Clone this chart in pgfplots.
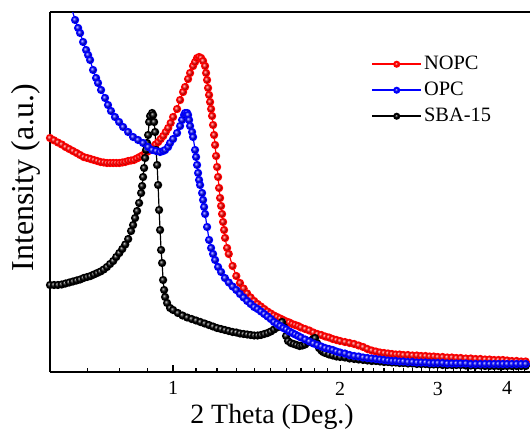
\documentclass[border=0pt]{standalone}
\usepackage{fontspec}
\setmainfont{Liberation Serif}
\usepackage{pgfplots}
\usepackage{pgfplotstable}
\pgfplotsset{compat=1.18}

% 2theta (deg), intensity (a.u.)
\pgfplotstableread{
x y
0.60 234
0.61 231.7
0.62 229.5
0.63 227.5
0.64 225
0.65 223
0.66 221
0.67 219
0.68 217
0.69 215
0.70 214
0.71 213
0.72 212
0.73 211
0.74 210
0.75 209.5
0.76 209
0.77 209
0.78 209
0.79 209
0.80 209
0.81 209.5
0.82 210
0.83 211
0.84 211.5
0.85 212
0.86 213.5
0.87 215
0.88 216.5
0.89 218.5
0.90 220.5
0.91 222.5
0.92 225
0.93 227.5
0.94 230
0.95 233
0.96 236
0.97 240
0.98 244
0.99 249
1.00 255
1.0167 263
1.0295 272
1.0424 280
1.0510 285
1.0642 293
1.0731 299
1.0865 306
1.0955 310
1.1047 314
1.1139 315
1.1232 314
1.1326 311
1.1420 306
1.1468 299
1.1515 292
1.1563 284
1.1611 277
1.1659 270
1.1708 263
1.1756 256
1.1805 247
1.1854 237
1.1904 227
1.1953 216
1.2003 205
1.2053 195
1.2103 184
1.2153 174
1.2204 166
1.2254 158
1.2305 150
1.2357 142
1.2408 134
1.2511 124
1.26 118
1.28 106
1.30 96
1.32 89
1.34 83.5
1.36 78.5
1.38 74.5
1.40 71
1.42 68
1.44 65.5
1.46 63
1.48 60.5
1.50 58.5
1.52 56.5
1.54 55
1.56 53.5
1.58 52
1.60 50.5
1.62 49.5
1.64 48
1.66 47
1.68 46
1.70 44.5
1.73 43
1.76 41.5
1.79 39.5
1.82 38
1.85 37
1.88 35.5
1.91 34.5
1.94 33
1.97 32
2.00 31
2.04 30
2.08 29
2.12 28
2.16 26.5
2.20 25
2.24 23
2.28 21.5
2.32 20.5
2.36 19.5
2.40 19
2.44 18.5
2.48 18
2.52 17.5
2.56 17.5
2.60 17
2.65 17
2.70 16.5
2.75 16.5
2.80 16
2.85 16
2.90 15.5
2.95 15.5
3.00 15
3.06 15
3.12 14.5
3.18 14.5
3.24 14
3.30 14
3.37 13.5
3.44 13.5
3.51 13
3.58 13
3.65 12.5
3.72 12.5
3.79 12
3.86 12
3.93 12
4.00 11.5
4.08 11
4.16 11
4.24 10.5
4.32 10.5
4.40 10
}\nopc

\pgfplotstableread{
x y
0.6577 362
0.6659 352
0.6743 344
0.6799 339
0.6884 330
0.6970 322
0.7028 317
0.7087 312
0.7175 302
0.7265 294
0.7325 289
0.7417 282
0.7541 274
0.7634 267
0.7729 261
0.7858 255
0.7993 250
0.8127 245
0.8297 240
0.8470 235
0.8648 232
0.8829 229
0.9016 225
0.9166 222
0.9319 221
0.9475 220
0.9594 221
0.9674 222
0.9795 225
0.9876 229
1.0000 233
1.0167 239
1.0295 246
1.0380 252
1.0467 257
1.0510 259
1.0598 259
1.0642 257
1.0686 252
1.0731 246
1.0820 240
1.0865 235
1.0955 222
1.1001 215
1.1047 207
1.1093 199
1.1139 192
1.1186 187
1.1279 179
1.1326 172
1.1373 165
1.1420 158
1.1515 145
1.1611 132
1.1708 124
1.1805 118
1.1904 112
1.2053 105
1.2204 100
1.24 94
1.26 89.5
1.28 85.5
1.30 82
1.32 78
1.34 74.5
1.36 71
1.38 68
1.40 65
1.42 63
1.44 60.5
1.46 58
1.48 55.5
1.50 53
1.52 50
1.54 48
1.56 46
1.58 44
1.60 42.5
1.62 40.5
1.64 39
1.66 37.5
1.68 36
1.70 34.5
1.73 32.5
1.76 30.5
1.79 28.5
1.82 27
1.85 25.5
1.88 24
1.91 23
1.94 22
1.97 20.5
2.00 19.5
2.04 18.5
2.08 17
2.12 16
2.16 15.5
2.20 14.5
2.24 14
2.28 13.5
2.32 13
2.36 12.5
2.40 12
2.44 11.5
2.48 11
2.52 11
2.56 10.5
2.60 10.5
2.65 10
2.70 10
2.75 9.5
2.80 9.5
2.85 9.5
2.90 9
2.95 9
3.00 9
3.06 9
3.12 8.5
3.18 8.5
3.24 8.5
3.30 8.5
3.37 8.5
3.44 8
3.51 8
3.58 8
3.65 8
3.72 8
3.79 8
3.86 8
3.93 8
4.00 8
4.08 8
4.16 8
4.24 8
4.32 8
4.40 8
}\opc

\pgfplotstableread{
x y
0.60 87
0.61 87
0.62 87
0.63 87.5
0.64 88.5
0.65 89.5
0.66 90.5
0.67 91.5
0.68 92.5
0.69 94
0.70 95
0.71 96
0.72 97.5
0.73 99
0.74 100.5
0.75 102.5
0.76 105
0.77 108
0.78 111
0.79 115
0.80 119
0.81 123
0.82 127.5
0.83 133
0.84 141
0.8470 147
0.8541 154
0.8612 161
0.8685 169
0.8757 179
0.8794 186
0.8829 195
0.8866 204
0.8904 214
0.8941 222
0.8978 229
0.9016 237
0.9053 250
0.9091 256
0.9166 259
0.9204 257
0.9242 250
0.9281 240
0.9319 222
0.9358 207
0.9397 187
0.9436 162
0.9475 142
0.9514 122
0.9554 109
0.9594 92
0.9634 82
0.9674 75
0.9754 69
0.9876 64
1.00 62
1.02 59
1.04 56.5
1.06 54.5
1.08 53
1.10 51.5
1.12 50
1.14 48.5
1.16 47
1.18 45.5
1.20 44
1.22 43
1.24 42
1.26 41
1.28 40
1.30 39.5
1.32 38.5
1.34 38
1.36 37.5
1.38 37
1.40 36.5
1.42 36.5
1.44 37
1.46 38
1.48 39
1.50 40.5
1.52 42.5
1.54 44.5
1.56 47.5
1.5718 50
1.5849 45
1.5981 36
1.6114 31
1.63 29
1.65 28
1.67 27
1.69 26
1.71 26.5
1.73 27.5
1.75 29.5
1.7653 31
1.7874 33
1.8023 34
1.8173 29
1.8325 24
1.85 21.5
1.8632 20
1.88 19
1.91 17.5
1.94 16.5
1.97 15.5
2.00 15
2.04 14.5
2.08 13.5
2.12 13
2.16 12.5
2.20 12
2.24 11.5
2.28 11
2.32 11
2.36 10.5
2.40 10
2.44 10
2.48 9.5
2.52 9.5
2.56 9
2.60 9
2.65 8.5
2.70 8.5
2.75 8
2.80 8
2.85 8
2.90 7.5
2.95 7.5
3.00 7.5
3.06 7
3.12 7
3.18 7
3.24 7
3.30 7
3.37 6.5
3.44 6.5
3.51 6.5
3.58 6.5
3.65 6
3.72 6
3.79 6
3.86 6
3.93 6
4.00 6
4.08 6
4.16 6
4.24 6
4.32 6
4.40 6
}\sba

\begin{document}
\begin{tikzpicture}
\begin{axis}[
    width=480bp, height=360bp, scale only axis,
    xmode=log, xmin=0.6, xmax=4.3979, ymin=0, ymax=360,
    axis x line*=box, axis y line*=left,
    axis line style={line width=1.6bp, -},
    ytick=\empty,
    xtick={1,2,3,4}, xticklabels={1,2,3,4},
    minor xtick={0.7,0.8,0.9,1.1,1.2,1.3,1.4,1.5,1.6,1.7,1.8,1.9,2.1,2.2,2.3,2.4,2.5,2.6,2.7,2.8,2.9,3.1,3.2,3.3,3.4,3.5,3.6,3.7,3.8,3.9,4.1,4.2,4.3},
    xtick pos=left, tick align=inside,
    major tick length=7bp, minor tick length=4bp,
    tick style={line width=1.2bp, black},
    tick label style={font=\fontsize{20}{24}\selectfont},
    xticklabel style={yshift=-6.3bp},
    xlabel={2 Theta (Deg.)},
    xlabel style={at={(axis description cs:0.4625,-0.1417)}, anchor=base, font=\fontsize{28}{34}\selectfont},
    ylabel={Intensity (a.u.)},
    ylabel style={at={(axis description cs:-0.0354,0.54)}, anchor=base, font=\fontsize{32}{36}\selectfont},
    legend style={draw=none, fill=none, at={(axis description cs:0.669,0.886)}, anchor=north west,
        inner sep=0pt, row sep=4bp, nodes={inner sep=2bp, text height=14bp, text depth=4bp},
        font=\fontsize{20.5}{24}\selectfont},
    legend cell align=left,
    legend image code/.code={\draw[mark repeat=2, mark phase=2, #1, mark size=2.6bp]
        plot coordinates {(0bp,0bp) (24.5bp,0bp) (49bp,0bp)};},
]
\addlegendimage{red, line width=1.8bp, mark=ball, mark options={ball color=red}}
\addlegendentry{NOPC}
\addlegendimage{blue, line width=1.8bp, mark=ball, mark options={ball color=blue}}
\addlegendentry{OPC}
\addlegendimage{black, line width=1.8bp, mark=ball, mark options={ball color=black}}
\addlegendentry{SBA-15}

\addplot[forget plot, red, line width=1.2bp, mark=ball, mark size=3.5bp, mark options={ball color=red}] table {\nopc};
\addplot[forget plot, black, line width=1.2bp, mark=ball, mark size=3.5bp, mark options={ball color=black}] table {\sba};
\addplot[forget plot, blue, line width=1.2bp, mark=ball, mark size=3.5bp, mark options={ball color=blue}] table {\opc};

\coordinate (sw) at (rel axis cs:0,0);
\coordinate (ne) at (rel axis cs:1,1);
\end{axis}
\pgfresetboundingbox
\useasboundingbox ([shift={(-50bp,-59bp)}]sw) rectangle ([shift={(0bp,12bp)}]ne);
\end{tikzpicture}
\end{document}
